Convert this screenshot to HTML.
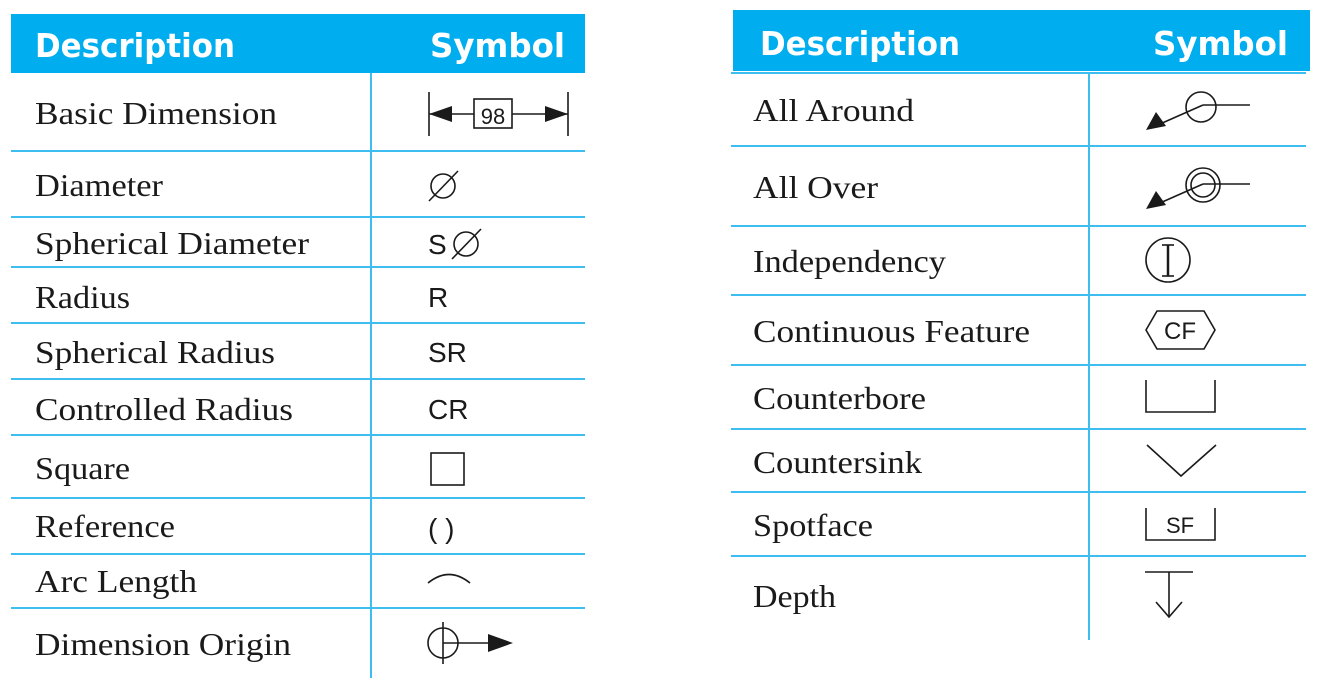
<!DOCTYPE html>
<html><head><meta charset="utf-8"><style>
html,body{margin:0;padding:0;background:#fff;}
svg{display:block;}
.d{font-family:"Liberation Serif",serif;font-size:32px;fill:#1a1a1a;}
.s{font-family:"Liberation Sans",sans-serif;font-size:28px;fill:#1a1a1a;}
.h{font-family:"DejaVu Sans","Liberation Sans",sans-serif;font-size:33px;font-weight:bold;fill:#fff;}
</style></head><body>
<svg width="1330" height="699" viewBox="0 0 1330 699">
<g stroke="#3dbdf0" stroke-width="2" fill="none">
<line x1="371" y1="73" x2="371" y2="678"/>
<line x1="11" y1="151" x2="585" y2="151"/>
<line x1="11" y1="217" x2="585" y2="217"/>
<line x1="11" y1="267" x2="585" y2="267"/>
<line x1="11" y1="323" x2="585" y2="323"/>
<line x1="11" y1="379" x2="585" y2="379"/>
<line x1="11" y1="435" x2="585" y2="435"/>
<line x1="11" y1="498" x2="585" y2="498"/>
<line x1="11" y1="554" x2="585" y2="554"/>
<line x1="11" y1="608" x2="585" y2="608"/>
<line x1="1089" y1="72" x2="1089" y2="640"/>
<line x1="731" y1="73" x2="1306" y2="73"/>
<line x1="731" y1="146" x2="1306" y2="146"/>
<line x1="731" y1="226" x2="1306" y2="226"/>
<line x1="731" y1="295" x2="1306" y2="295"/>
<line x1="731" y1="365" x2="1306" y2="365"/>
<line x1="731" y1="429" x2="1306" y2="429"/>
<line x1="731" y1="492" x2="1306" y2="492"/>
<line x1="731" y1="556" x2="1306" y2="556"/>
</g>
<rect x="11" y="14" width="574" height="59" fill="#00aeef"/>
<rect x="733" y="10" width="577" height="61" fill="#00aeef"/>
<text class="h" x="35" y="57" textLength="200" lengthAdjust="spacingAndGlyphs">Description</text>
<text class="h" x="430" y="57" textLength="135" lengthAdjust="spacingAndGlyphs">Symbol</text>
<text class="h" x="760" y="55" textLength="200" lengthAdjust="spacingAndGlyphs">Description</text>
<text class="h" x="1153" y="55" textLength="135" lengthAdjust="spacingAndGlyphs">Symbol</text>

<g class="d">
<text x="35" y="124" textLength="242" lengthAdjust="spacingAndGlyphs">Basic Dimension</text>
<text x="35" y="196" textLength="128" lengthAdjust="spacingAndGlyphs">Diameter</text>
<text x="35" y="254" textLength="274" lengthAdjust="spacingAndGlyphs">Spherical Diameter</text>
<text x="35" y="308" textLength="95" lengthAdjust="spacingAndGlyphs">Radius</text>
<text x="35" y="363" textLength="240" lengthAdjust="spacingAndGlyphs">Spherical Radius</text>
<text x="35" y="420" textLength="258" lengthAdjust="spacingAndGlyphs">Controlled Radius</text>
<text x="35" y="479" textLength="95" lengthAdjust="spacingAndGlyphs">Square</text>
<text x="35" y="537" textLength="140" lengthAdjust="spacingAndGlyphs">Reference</text>
<text x="35" y="592" textLength="162" lengthAdjust="spacingAndGlyphs">Arc Length</text>
<text x="35" y="655" textLength="256" lengthAdjust="spacingAndGlyphs">Dimension Origin</text>
<text x="753" y="121" textLength="161" lengthAdjust="spacingAndGlyphs">All Around</text>
<text x="753" y="198" textLength="125" lengthAdjust="spacingAndGlyphs">All Over</text>
<text x="753" y="272" textLength="193" lengthAdjust="spacingAndGlyphs">Independency</text>
<text x="753" y="342" textLength="277" lengthAdjust="spacingAndGlyphs">Continuous Feature</text>
<text x="753" y="409" textLength="173" lengthAdjust="spacingAndGlyphs">Counterbore</text>
<text x="753" y="473" textLength="169" lengthAdjust="spacingAndGlyphs">Countersink</text>
<text x="753" y="536" textLength="120" lengthAdjust="spacingAndGlyphs">Spotface</text>
<text x="753" y="607" textLength="83" lengthAdjust="spacingAndGlyphs">Depth</text>
</g>

<g stroke="#1a1a1a" stroke-width="1.6" fill="none">
<line x1="429" y1="92" x2="429" y2="136"/>
<line x1="568" y1="92" x2="568" y2="136"/>
<line x1="429" y1="114" x2="474" y2="114"/>
<line x1="512" y1="114" x2="568" y2="114"/>
<rect x="474" y="99" width="38" height="29"/>
<circle cx="443" cy="186" r="12"/>
<line x1="429" y1="201" x2="458" y2="171"/>
<circle cx="466" cy="244" r="12"/>
<line x1="452" y1="259" x2="481" y2="229"/>
<rect x="431" y="453" width="33" height="32"/>
<path d="M428 583 Q449 566 470 583"/>
<circle cx="443" cy="643" r="15"/>
<line x1="443" y1="622" x2="443" y2="664"/>
<line x1="443" y1="643" x2="490" y2="643"/>
<circle cx="1201" cy="107" r="15"/>
<line x1="1203" y1="105" x2="1250" y2="105"/>
<line x1="1203" y1="105" x2="1160" y2="124"/>
<circle cx="1203" cy="185" r="17"/>
<circle cx="1203" cy="185" r="12"/>
<line x1="1203" y1="184" x2="1250" y2="184"/>
<line x1="1203" y1="184" x2="1160" y2="203"/>
<circle cx="1168" cy="260" r="22"/>
<line x1="1168" y1="245" x2="1168" y2="276" stroke-width="2.5"/>
<line x1="1162" y1="245" x2="1174" y2="245"/>
<line x1="1162" y1="276" x2="1174" y2="276"/>
<polygon points="1146,330 1157,311 1204,311 1215,330 1204,349 1157,349"/>
<polyline points="1146,380 1146,412 1215,412 1215,380"/>
<polyline points="1147,445 1181,476 1216,445"/>
<polyline points="1146,508 1146,540 1215,540 1215,508"/>
<line x1="1145" y1="572" x2="1193" y2="572"/>
<line x1="1169" y1="572" x2="1169" y2="617"/>
<polyline points="1156,602 1169,617 1182,602"/>
</g>
<g fill="#1a1a1a">
<polygon points="429,114 452,106 452,122"/>
<polygon points="568,114 545,106 545,122"/>
<polygon points="513,643 488,634 488,652"/>
<polygon points="1146,130 1156,112 1166,126"/>
<polygon points="1146,209 1156,191 1166,205"/>
</g>
<g class="s">
<text x="493" y="124" text-anchor="middle" font-size="22">98</text>
<text x="428" y="254">S</text>
<text x="428" y="307">R</text>
<text x="428" y="362">SR</text>
<text x="428" y="419">CR</text>
<text x="428" y="538">( )</text>
<text x="1180" y="339" text-anchor="middle" font-size="24">CF</text>
<text x="1180" y="533" text-anchor="middle" font-size="22">SF</text>
</g>
</svg>
</body></html>
